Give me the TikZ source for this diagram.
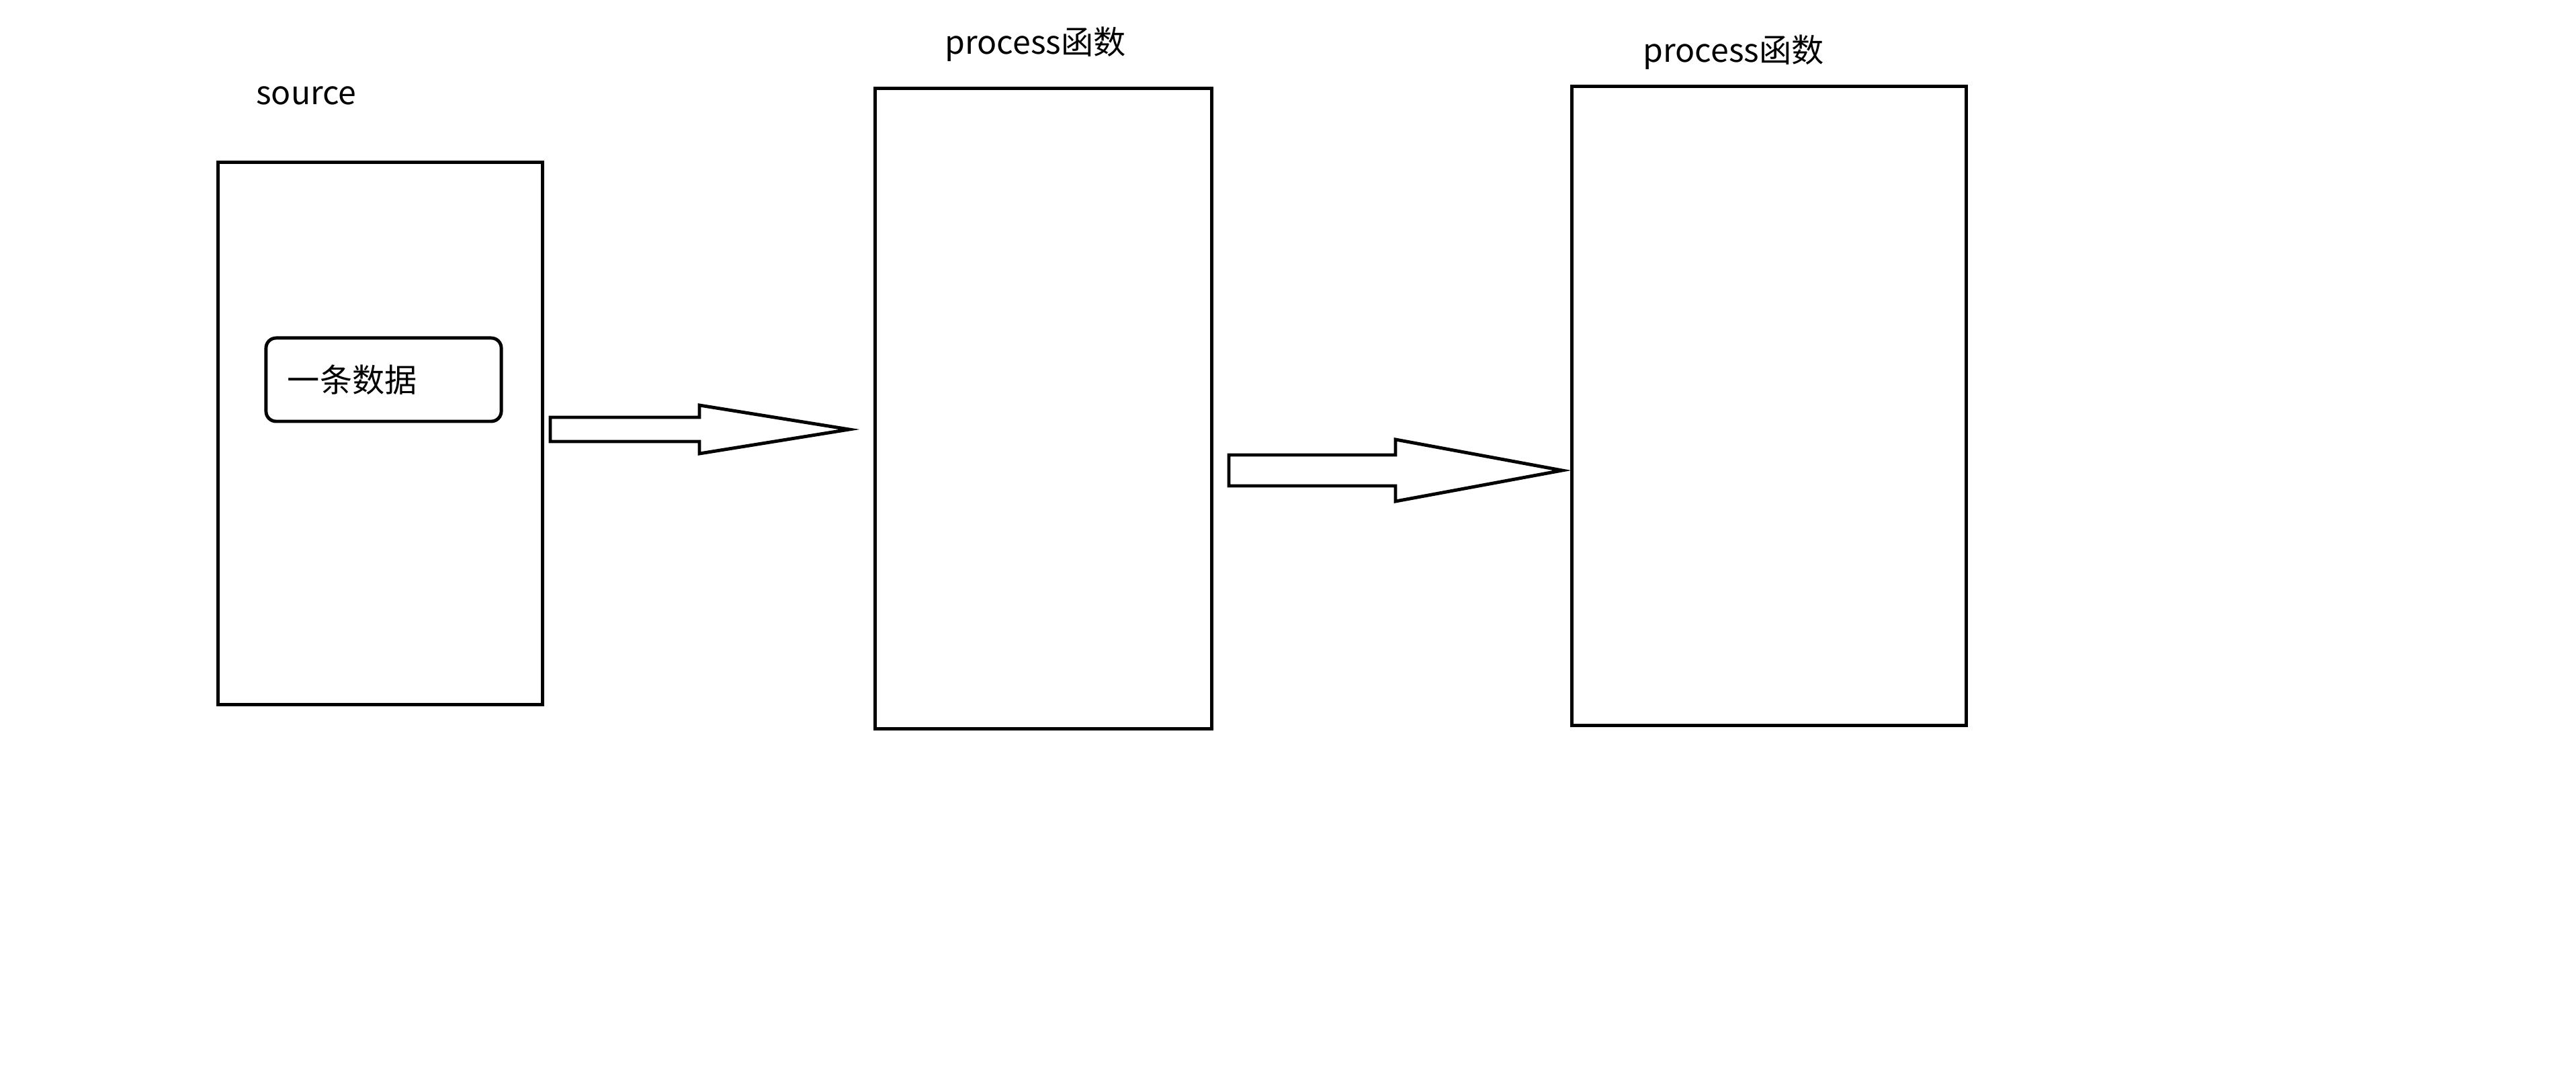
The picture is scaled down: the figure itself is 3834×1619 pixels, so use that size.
\documentclass[tikz,border=0pt]{standalone}
\usepackage{fontspec}
\setmainfont{Noto Sans CJK SC}
\usetikzlibrary{
  positioning
}

\begin{document}
\begin{tikzpicture}[x=0.01cm,y=-0.01cm]
  \tikzset{
    stage/.style = {draw, line width=1.4pt, outer sep=0pt, inner sep=0pt},
    record/.style = {stage, rounded corners=0.15cm, align=left,
      font=\fontsize{13.7}{16}\selectfont},
    lbl/.style = {inner sep=0pt, font=\fontsize{13.7}{16}\selectfont},
    blockarrow/.style = {draw, line width=1.4pt, fill=white},
  }
  \useasboundingbox (0,0) rectangle (3834,1619);

  % the three stages
  \node[stage, minimum width=4.82cm, minimum height=8.06cm] (source) at (566,645) {};
  \node[stage, minimum width=5.01cm, minimum height=9.53cm] (proc-a) at (1553,608) {};
  \node[stage, minimum width=5.87cm, minimum height=9.51cm] (proc-b) at (2633,604) {};

  % one record inside the source
  \node[record, text width=2.86cm, inner xsep=0.32cm, minimum height=1.24cm]
    (item) at (571,565) {一条数据};

  % titles above the stages
  \node[lbl, anchor=base] (source-title) at (456,156) {source};
  \node[lbl, anchor=base] (proc-a-title) at (1541,81) {process函数};
  \node[lbl, anchor=base] (proc-b-title) at (2580,93) {process函数};

  % block arrows between stages: start/base/tip/middle/shaft/head
  \foreach \sx/\bx/\tx/\y/\s/\h in {819/1041/1264/639/18/36,1829/2077/2325/700/23/46}
  \draw[blockarrow]
  (\sx,\y-\s) -- (\bx,\y-\s) -- (\bx,\y-\h) -- (\tx,\y)
  -- (\bx,\y+\h) -- (\bx,\y+\s) -- (\sx,\y+\s) -- cycle
  ;
\end{tikzpicture}
\end{document}
